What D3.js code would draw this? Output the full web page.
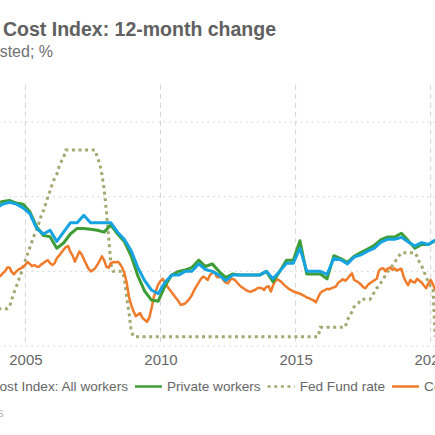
<!DOCTYPE html>
<html>
<head>
<meta charset="utf-8">
<script src="https://cdn.jsdelivr.net/npm/d3@7"></script>
<style>
  body { margin: 0; background: #fff; }
  svg { display: block; font-family: "Liberation Sans", Arial, sans-serif; }
</style>
</head>
<body>
<script>

// ECI, 12-month % change, quarterly (Mar/Jun/Sep/Dec), first value is Dec 2003
var eciStart = new Date(2003, 11, 1);
var eciAll = [3.7,
  3.8, 3.85, 3.8, 3.7,
  3.55, 3.15, 3.0, 3.1,
  2.8, 3.05, 3.3, 3.3,
  3.5, 3.3, 3.3, 3.3,
  3.3, 3.05, 2.85, 2.55,
  2.1, 1.75, 1.5, 1.4,
  1.7, 1.9, 1.9, 2.0,
  2.0, 2.2, 2.05, 2.0,
  1.9, 1.75, 1.9, 1.9,
  1.9, 1.9, 1.9, 2.0,
  1.8, 2.0, 2.22, 2.22,
  2.62, 2.0, 2.0, 2.0,
  1.92, 2.35, 2.31, 2.2,
  2.38, 2.44, 2.54, 2.62,
  2.78, 2.86, 2.86, 2.91,
  2.79, 2.68, 2.77, 2.72,
  2.84];
var eciPrivate = [3.82,
  3.87, 3.9, 3.83, 3.8,
  3.6, 3.2, 2.96, 2.93,
  2.62, 2.76, 3.0, 3.15,
  3.15, 3.13, 3.1, 3.05,
  3.24, 3.0, 2.79, 2.41,
  1.88, 1.47, 1.23, 1.2,
  1.6, 1.9, 2.0, 2.04,
  2.1, 2.3, 2.13, 2.2,
  2.0, 1.83, 1.93, 1.9,
  1.9, 1.9, 1.9, 2.0,
  1.72, 2.0, 2.3, 2.3,
  2.82, 1.93, 1.93, 1.93,
  1.8, 2.42, 2.34, 2.24,
  2.4, 2.5, 2.6, 2.7,
  2.85, 2.92, 2.92, 3.02,
  2.83, 2.62, 2.72, 2.72,
  2.82];

// monthly series, first value is Jan 2004
var monthStart = new Date(2004, 0, 1);
var fedFunds = [
  1.0, 1.0, 1.0, 1.0, 1.0, 1.05, 1.25, 1.43, 1.6, 1.76, 1.93, 2.12,
  2.3, 2.48, 2.63, 2.8, 2.97, 3.12, 3.28, 3.48, 3.62, 3.8, 4.0, 4.16,
  4.35, 4.5, 4.6, 4.8, 4.94, 5.05, 5.25, 5.25, 5.25, 5.25, 5.25, 5.25,
  5.25, 5.25, 5.25, 5.25, 5.25, 5.25, 5.25, 5.25, 5.05, 4.9, 4.6, 4.2,
  3.6, 2.9, 2.2, 2.0, 2.0, 2.0, 2.0, 2.0, 1.8, 1.3, 0.9, 0.4,
  0.25, 0.25, 0.25, 0.25, 0.25, 0.25, 0.25, 0.25, 0.25, 0.25, 0.25, 0.25,
  0.25, 0.25, 0.25, 0.25, 0.25, 0.25, 0.25, 0.25, 0.25, 0.25, 0.25, 0.25,
  0.25, 0.25, 0.25, 0.25, 0.25, 0.25, 0.25, 0.25, 0.25, 0.25, 0.25, 0.25,
  0.25, 0.25, 0.25, 0.25, 0.25, 0.25, 0.25, 0.25, 0.25, 0.25, 0.25, 0.25,
  0.25, 0.25, 0.25, 0.25, 0.25, 0.25, 0.25, 0.25, 0.25, 0.25, 0.25, 0.25,
  0.25, 0.25, 0.25, 0.25, 0.25, 0.25, 0.25, 0.25, 0.25, 0.25, 0.25, 0.25,
  0.25, 0.25, 0.25, 0.25, 0.25, 0.25, 0.25, 0.25, 0.25, 0.25, 0.25, 0.5,
  0.5, 0.5, 0.5, 0.5, 0.5, 0.5, 0.5, 0.5, 0.5, 0.5, 0.5, 0.7,
  0.8, 0.92, 1.05, 1.1, 1.15, 1.25, 1.25, 1.25, 1.25, 1.25, 1.33, 1.45,
  1.55, 1.6, 1.7, 1.8, 1.9, 2.0, 2.08, 2.15, 2.25, 2.33, 2.42, 2.5,
  2.5, 2.5, 2.5, 2.5, 2.5, 2.5, 2.4, 2.25, 2.15, 2.0, 1.85, 1.7,
  1.6, 1.55, 0.25];
var corePce = [
  1.85, 1.88, 1.95, 2.0, 2.1, 2.1, 1.98, 1.92, 2.0, 2.05, 2.08, 2.12,
  2.18, 2.25, 2.2, 2.14, 2.17, 2.13, 2.12, 2.18, 2.22, 2.27, 2.3, 2.22,
  2.17, 2.22, 2.35, 2.42, 2.5, 2.58, 2.65, 2.68, 2.52, 2.42, 2.26, 2.4,
  2.53, 2.45, 2.33, 2.2, 2.08, 2.0, 2.03, 2.08, 2.18, 2.28, 2.4, 2.3,
  2.12, 2.1, 2.22, 2.25, 2.24, 2.26, 2.2, 2.1, 1.95, 1.7, 1.32, 1.1,
  0.93, 0.8, 0.84, 0.88, 0.76, 0.7, 0.65, 0.75, 1.0, 1.3, 1.48, 1.65,
  1.74, 1.8, 1.7, 1.6, 1.52, 1.44, 1.36, 1.28, 1.2, 1.1, 1.12, 1.14,
  1.2, 1.28, 1.36, 1.5, 1.6, 1.7, 1.8, 1.86, 1.82, 1.77, 1.9, 1.96,
  1.99, 1.85, 1.84, 1.9, 1.76, 1.7, 1.68, 1.78, 1.8, 1.77, 1.7, 1.63,
  1.58, 1.54, 1.5, 1.47, 1.45, 1.48, 1.5, 1.55, 1.56, 1.55, 1.5, 1.58,
  1.6, 1.46, 1.62, 1.74, 1.79, 1.75, 1.7, 1.63, 1.58, 1.53, 1.5, 1.46,
  1.44, 1.42, 1.4, 1.37, 1.34, 1.3, 1.28, 1.25, 1.22, 1.17, 1.3, 1.42,
  1.47, 1.5, 1.53, 1.52, 1.55, 1.57, 1.6, 1.7, 1.74, 1.79, 1.75, 1.8,
  1.88, 1.95, 1.77, 1.74, 1.7, 1.65, 1.58, 1.55, 1.63, 1.68, 1.72, 1.76,
  1.8, 2.02, 2.07, 2.08, 2.0, 2.08, 2.1, 2.04, 2.08, 2.02, 2.05, 2.07,
  1.85, 1.72, 1.63, 1.77, 1.72, 1.7, 1.8, 1.75, 1.7, 1.62, 1.55, 1.68,
  1.77, 1.65, 1.5];

var yearTicks = [2005, 2010, 2015, 2020];
var valueTicks = [0, 2, 4, 6];
var seriesNames = ['Employment Cost Index: All workers', 'Private workers', 'Fed Fund rate', 'Core PCE'];

var titleText = 'Employment Cost Index: 12-month change';
var subtitleText = 'Not seasonally adjusted; %';
var sourceText = 'Source: Bureau of Labor Statistics';

//Build dated rows from the arrays.
var quarters = eciAll.map(function(d, i){ return d3.timeMonth.offset(eciStart, i * 3); });
var months = fedFunds.map(function(d, i){ return d3.timeMonth.offset(monthStart, i); });

var W = 435, H = 435;
var svg = d3.select('body').append('svg').attr('width', W).attr('height', H);

//The chart is a crop of a wider one, so the scale runs past the left edge.
var x = d3.scaleTime()
  .domain([new Date(2005, 0, 1), new Date(2020, 0, 1)])
  .range([25.4, 430.7]);
var y = d3.scaleLinear().domain([0, 7]).range([346, 84.7]);

// grid
svg.append('g').selectAll('line')
  .data(valueTicks).enter().append('line')
  .attr('x1', -150).attr('x2', W + 10)
  .attr('y1', function(d){ return y(d); })
  .attr('y2', function(d){ return y(d); })
  .attr('stroke', '#cfcfcf').attr('stroke-width', 1)
  .attr('stroke-dasharray', '1.5,4');

svg.append('g').selectAll('line')
  .data(yearTicks).enter().append('line')
  .attr('x1', function(d){ return x(new Date(d, 0, 1)); })
  .attr('x2', function(d){ return x(new Date(d, 0, 1)); })
  .attr('y1', y(7)).attr('y2', y(0))
  .attr('stroke', '#d4d4d4').attr('stroke-width', 1)
  .attr('stroke-dasharray', '5,4');

// year labels
var xAxis = d3.axisBottom(x)
  .tickValues(yearTicks.map(function(d){ return new Date(d, 0, 1); }))
  .tickFormat(d3.timeFormat('%Y'))
  .tickSize(0);
var gx = svg.append('g').attr('transform', 'translate(0,' + y(0) + ')').call(xAxis);
gx.select('.domain').remove();
gx.selectAll('text')
  .attr('y', 19).attr('dy', 0)
  .attr('fill', '#666').style('font-size', '15px')
  .style('font-family', '"Liberation Sans", Arial, sans-serif');

// lines
var lineQ = d3.line()
  .x(function(d, i){ return x(quarters[i]); })
  .y(function(d){ return y(d); });
var lineM = d3.line()
  .x(function(d, i){ return x(months[i]); })
  .y(function(d){ return y(d); });

var styles = [
  {color: '#15a3e2', width: 3, dash: null},
  {color: '#3d9e37', width: 3, dash: null},
  {color: '#a3a871', width: 3, dash: '3,3.6'},
  {color: '#f07b2b', width: 2.5, dash: null}
];

svg.append('path').datum(fedFunds)
  .attr('d', lineM).attr('fill', 'none')
  .attr('stroke', styles[2].color).attr('stroke-width', styles[2].width)
  .attr('stroke-dasharray', styles[2].dash);

svg.append('path').datum(corePce)
  .attr('d', lineM).attr('fill', 'none')
  .attr('stroke', styles[3].color).attr('stroke-width', styles[3].width)
  .attr('stroke-linejoin', 'round');

svg.append('path').datum(eciPrivate)
  .attr('d', lineQ).attr('fill', 'none')
  .attr('stroke', styles[1].color).attr('stroke-width', styles[1].width)
  .attr('stroke-linejoin', 'round');

svg.append('path').datum(eciAll)
  .attr('d', lineQ).attr('fill', 'none')
  .attr('stroke', styles[0].color).attr('stroke-width', styles[0].width)
  .attr('stroke-linejoin', 'round');

// titles
svg.append('text').text(titleText)
  .attr('x', 276).attr('y', 36).attr('text-anchor', 'end')
  .attr('fill', '#606060').style('font-size', '19.5px').style('font-weight', 'bold');

svg.append('text').text(subtitleText)
  .attr('x', 53).attr('y', 57).attr('text-anchor', 'end')
  .attr('fill', '#707070').style('font-size', '16px');

svg.append('text').text(sourceText)
  .attr('x', 3.5).attr('y', 417).attr('text-anchor', 'end')
  .attr('fill', '#b0b0b0').style('font-size', '12px');

// legend: swatch, text, swatch, text ... laid out from measured widths
var legend = svg.append('g').attr('transform', 'translate(0,391)');
var swatchW = 27, gapIn = 5, gapOut = 7;
var items = legend.selectAll('g').data(seriesNames).enter().append('g');
items.append('line')
  .attr('x1', 0).attr('x2', swatchW).attr('y1', -4.5).attr('y2', -4.5)
  .attr('stroke', function(d, i){ return styles[i].color; })
  .attr('stroke-width', function(d, i){ return i == 2 ? 2.5 : 2.5; })
  .attr('stroke-dasharray', function(d, i){ return styles[i].dash; });
items.append('text').text(function(d){ return d; })
  .attr('x', swatchW + gapIn)
  .attr('fill', '#666').style('font-size', '13.6px');

var offsets = [], pos = 0;
items.each(function(d, i){
  offsets.push(pos);
  pos += swatchW + gapIn + d3.select(this).select('text').node().getComputedTextLength() + gapOut;
});
//Second swatch sits at x=135 in the reference; shift everything from it.
var shift = 135 - offsets[1];
items.attr('transform', function(d, i){ return 'translate(' + (offsets[i] + shift) + ',0)'; });

</script>
</body>
</html>
